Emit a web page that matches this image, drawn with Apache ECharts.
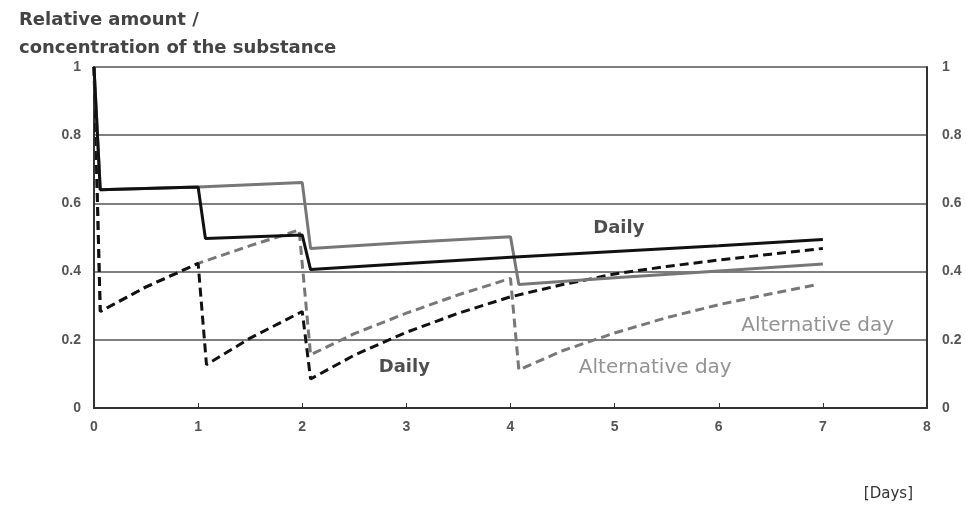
<!DOCTYPE html>
<html>
<head>
<meta charset="utf-8">
<script src="https://cdn.jsdelivr.net/npm/echarts@6/dist/echarts.min.js"></script>
<style>
html,body{margin:0;padding:0;background:#fff;}
#chart{width:966px;height:512px;}
</style>
</head>
<body>
<div id="chart"></div>
<script>
// X ticks and Y ticks
var xTicks = [0,1,2,3,4,5,6,7,8];
var yTicks = [0,0.2,0.4,0.6,0.8,1];

// Daily dosing - relative amount (black solid)
var dailyAmountX = [0,0.06,1.0,1.07,2.0,2.08,3,4,5,6,7];
var dailyAmountY = [1,0.640,0.648,0.497,0.507,0.406,0.424,0.442,0.459,0.476,0.494];

// Alternative day dosing - relative amount (gray solid)
var altAmountX = [0,0.06,1.0,2.0,2.08,3,4.0,4.08,5,6,7];
var altAmountY = [1,0.640,0.648,0.661,0.468,0.485,0.502,0.362,0.382,0.402,0.422];

// Daily dosing - concentration (black dashed)
var dailyConcX = [0,0.06,0.5,1.0,1.08,1.5,2.0,2.08,2.5,3,3.5,4,4.5,5,5.5,6,6.5,7];
var dailyConcY = [1,0.283,0.355,0.424,0.127,0.205,0.283,0.085,0.155,0.222,0.278,0.326,0.362,0.393,0.415,0.434,0.451,0.468];

// Alternative day dosing - concentration (gray dashed)
var altConcX = [0,0.06,0.5,1.0,1.5,1.97,2.08,2.5,3,3.5,4.0,4.08,4.5,5,5.5,6,6.5,6.95];
var altConcY = [1,0.283,0.355,0.424,0.476,0.522,0.156,0.218,0.278,0.332,0.380,0.112,0.168,0.220,0.265,0.303,0.335,0.362];

// Annotations
var noteTexts = ['Daily','Daily','Alternative day','Alternative day'];
var noteX = [5.04,2.98,6.95,5.39];
var noteY = [0.527,0.118,0.241,0.118];
var noteIsDaily = [true,true,false,false];

function pairs(xs, ys){ return xs.map(function(x,i){ return [x, ys[i]]; }); }

var chart = echarts.init(document.getElementById('chart'));
var tickFont = {color:'#555', fontSize:14, fontWeight:'bold', fontFamily:'Liberation Sans, Arial, sans-serif'};

var option = {
  animation:false,
  backgroundColor:'#fff',
  title:{
    text:'Relative amount /\nconcentration of the substance',
    left:14, top:1,
    textStyle:{fontFamily:'DejaVu Sans, sans-serif', fontSize:18, fontWeight:'bold', color:'#444', lineHeight:28}
  },
  grid:{left:94, right:39, top:67, bottom:104},
  xAxis:{
    type:'value', min:0, max:8, interval:1,
    axisLine:{show:true, lineStyle:{color:'#333', width:2}},
    axisTick:{show:true, inside:true, length:5, lineStyle:{color:'#333', width:1}},
    splitLine:{show:false},
    axisLabel:Object.assign({margin:12, formatter:function(v){return xTicks.indexOf(v)>=0?String(v):'';}}, tickFont)
  },
  yAxis:[{
    type:'value', min:0, max:1, interval:0.2, position:'left',
    axisLine:{show:true, lineStyle:{color:'#333', width:2}},
    axisTick:{show:false},
    splitLine:{show:true, lineStyle:{color:'#555', width:1.5}},
    axisLabel:Object.assign({margin:13, formatter:function(v){var r=Math.round(v*10)/10;return yTicks.indexOf(r)>=0?String(r):'';}}, tickFont)
  },{
    type:'value', min:0, max:1, interval:0.2, position:'right',
    axisLine:{show:true, lineStyle:{color:'#333', width:2}},
    axisTick:{show:false},
    splitLine:{show:false},
    axisLabel:Object.assign({margin:15, formatter:function(v){return String(Math.round(v*10)/10);}}, tickFont)
  }],
  graphic:[{
    type:'text', right:53, top:487,
    style:{text:'[Days]', font:'15px "DejaVu Sans", sans-serif', fill:'#333'}
  }],
  series:[
    {name:'Alt conc', type:'line', data:pairs(altConcX, altConcY), showSymbol:false, smooth:false,
      lineStyle:{color:'#777', width:3, type:[9,5]}},
    {name:'Daily conc', type:'line', data:pairs(dailyConcX, dailyConcY), showSymbol:false, smooth:false,
      lineStyle:{color:'#111', width:3, type:[9,5]}},
    {name:'Alt amount', type:'line', data:pairs(altAmountX, altAmountY), showSymbol:false,
      lineStyle:{color:'#777', width:3}},
    {name:'Daily amount', type:'line', data:pairs(dailyAmountX, dailyAmountY), showSymbol:false,
      lineStyle:{color:'#111', width:3}},
    {name:'notes', type:'scatter', symbolSize:0, silent:true,
      data:noteTexts.map(function(t,i){
        return {value:[noteX[i], noteY[i]], label:{show:true, position:'inside', formatter:t,
          fontFamily:'DejaVu Sans, sans-serif', fontSize:noteIsDaily[i]?18:20,
          fontWeight:noteIsDaily[i]?'bold':'normal', color:noteIsDaily[i]?'#222':'#777'}};
      })}
  ]
};
chart.setOption(option);
</script>
</body>
</html>
